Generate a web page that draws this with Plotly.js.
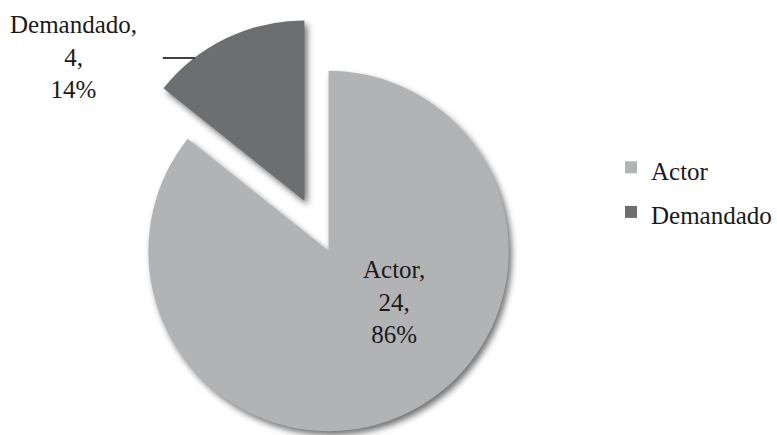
<!DOCTYPE html>
<html>
<head>
<meta charset="utf-8">
<script src="https://cdn.plot.ly/plotly-3.0.1.min.js"></script>
<style>
  html, body { margin:0; padding:0; overflow:hidden; background:#fff; width:777px; height:435px; }
  #chart { position:absolute; left:0; top:0; }
  .pielayer path.surface { filter: drop-shadow(3px 4px 3px rgba(0,0,0,0.55)); }
</style>
</head>
<body>
<div id="chart"></div>
<script>
const categories = ['Actor', 'Demandado'];
const values = [24, 4];
const colors = ['#b2b3b5', '#6d6e70'];
const pulls = [0, 0.31];

const W = 777, H = 487, BOX = 472;
const px = x => x / W;
const py = y => 1 - y / H;

const total = values.reduce((a, b) => a + b, 0);
const labelText = i => categories[i] + ',<br>' + values[i] + ',<br>' + Math.round(values[i] / total * 100) + '%';

const FONT = 'Liberation Serif, Times New Roman, serif';
const TXT = '#1a1a1a';

const trace = {
  type: 'pie',
  labels: categories.map(c => '<span style="font-size:25px">' + c + '</span>'),
  values: values,
  marker: { colors: colors, line: { width: 0 } },
  pull: pulls,
  sort: false,
  direction: 'clockwise',
  rotation: 0,
  textinfo: 'none',
  hoverinfo: 'none',
  domain: { x: [0, 2 * 329 / W], y: [0, BOX / H] }
};

const layout = {
  width: W, height: H,
  margin: { l: 0, r: 0, t: 0, b: 0 },
  paper_bgcolor: '#fff',
  font: { family: FONT, size: 25, color: TXT },
  showlegend: true,
  legend: { x: px(612), xanchor: 'left', y: py(140), yanchor: 'top', font: { family: FONT, size: 32, color: TXT } },
  annotations: [
    { xref: 'paper', yref: 'paper', x: px(395), y: py(302), xanchor: 'center', yanchor: 'middle', text: labelText(0), showarrow: false, align: 'center', font: { family: FONT, size: 25, color: TXT } },
    { xref: 'paper', yref: 'paper', x: px(74), y: py(57), xanchor: 'center', yanchor: 'middle', text: labelText(1), showarrow: false, align: 'center', font: { family: FONT, size: 25, color: TXT } }
  ],
  shapes: [
    { type: 'line', xref: 'paper', yref: 'paper', x0: px(163), x1: px(195), y0: py(58), y1: py(58), line: { color: '#000', width: 1.5 } }
  ]
};

Plotly.newPlot('chart', [trace], layout, { displayModeBar: false, staticPlot: true });
</script>
</body>
</html>
